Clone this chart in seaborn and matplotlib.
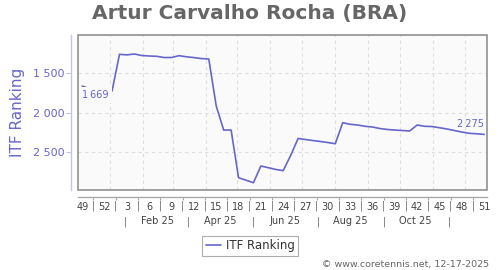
import pandas as pd
import matplotlib
matplotlib.use("Agg")
import matplotlib.pyplot as plt
from matplotlib.patches import Rectangle
from matplotlib.lines import Line2D
from matplotlib.ticker import FuncFormatter
import seaborn as sns

# ---------------- data ----------------
start_date = "2024-12-06"
weeks = [49, 50, 51, 52, 1, 2, 3, 4, 5, 6, 7, 8, 9, 10, 11, 12, 13, 14, 15, 16,
         17, 18, 19, 20, 21, 22, 23, 24, 25, 26, 27, 28, 29, 30, 31, 32, 33, 34,
         35, 36, 37, 38, 39, 40, 41, 42, 43, 44, 45, 46, 47, 48, 49, 50, 51]
ranks = [1669, 1700, 1720, 1730, 1730, 1269, 1276, 1265, 1284, 1290, 1294,
         1309, 1309, 1286, 1300, 1310, 1322, 1328, 1918, 2220, 2220, 2819,
         2850, 2882, 2672, 2693, 2715, 2730, 2540, 2326, 2339, 2352, 2364,
         2377, 2392, 2128, 2148, 2157, 2173, 2182, 2201, 2213, 2220, 2226,
         2232, 2157, 2173, 2176, 2191, 2207, 2226, 2245, 2261, 2267, 2275]
month_labels = ["Feb 25", "Apr 25", "Jun 25", "Aug 25", "Oct 25"]
month_label_dates = ["2025-02-15", "2025-04-15", "2025-06-15", "2025-08-15", "2025-10-15"]
month_sep_dates = ["2025-01-16", "2025-03-16", "2025-05-16", "2025-07-16",
                   "2025-09-16", "2025-11-16"]
y_ticks = [1500, 2000, 2500]
series_name = "ITF Ranking"
title = "Artur Carvalho Rocha (BRA)"
credit = "\u00a9 www.coretennis.net, 12-17-2025"

dates = pd.date_range(start_date, periods=len(ranks), freq="7D")
df = pd.DataFrame({"date": dates, "rank": ranks})

# ---------------- style ----------------
sns.set_theme(style="white")
plt.rcParams["font.family"] = ["DejaVu Sans"]

LINE = "#6666cc"
BOX = "#888888"
GRID = "#dddddd"

fig = plt.figure(figsize=(5, 2.7), dpi=100)
ax = fig.add_axes([78.3 / 500, 1 - 190.3 / 270, 409 / 500, 155 / 270])
ax.set_facecolor("#fafafa")

sns.lineplot(data=df, x="date", y="rank", ax=ax, color=LINE, lw=1.2,
             legend=False, zorder=3)

ax.set_xlim(pd.Timestamp("2024-12-02 06:00"), pd.Timestamp("2025-12-22"))
ax.set_ylim(2977, 1030)

# grid
ax.set_axisbelow(True)
ax.set_yticks(y_ticks)
ax.yaxis.grid(True, ls=(0, (3, 3)), color=GRID, lw=0.8)
for d in pd.date_range("2025-01-01", "2025-12-01", freq="MS"):
    ax.axvline(d, ls=(0, (3, 3)), color=GRID, lw=0.8, zorder=0)

# spines / frame
for s in ["top", "right"]:
    ax.spines[s].set_visible(False)
ax.spines["left"].set_position(("outward", 5))
ax.spines["left"].set_color("#c4c4e8")
ax.spines["left"].set_linewidth(1.0)
ax.spines["bottom"].set_position(("outward", 5))
ax.spines["bottom"].set_color("#aaaaaa")
ax.spines["bottom"].set_linewidth(1.0)
ax.add_patch(Rectangle((0, 0), 1, 1, transform=ax.transAxes, fill=False,
                       ec=BOX, lw=1.1, clip_on=False, zorder=6))

# y axis
ax.yaxis.set_major_formatter(FuncFormatter(lambda v, p: f"{int(v):,}".replace(",", " ")))
ax.tick_params(axis="y", left=True, length=3.6, width=0.8, color="#c4c4e8",
               labelcolor=LINE, labelsize=8, pad=1)
ax.set_ylabel(series_name, fontsize=11, color=LINE)
ax.yaxis.set_label_coords(-0.1303, 0.5)

# x axis: week numbers every 3 weeks, separators between
tick_dates = dates[::3]
ax.set_xticks(tick_dates)
ax.set_xticklabels([str(w) for w in weeks[::3]])
mids = tick_dates[:-1] + pd.Timedelta(days=10.5)
ax.set_xticks(mids, minor=True)
ax.set_xticklabels(["|"] * len(mids), minor=True)
ax.tick_params(axis="x", which="major", bottom=True, length=0, labelsize=7,
               labelcolor="#444444", pad=3.6)
ax.tick_params(axis="x", which="minor", bottom=True, length=2.2, width=0.8,
               color="#aaaaaa", labelsize=7, labelcolor="#666666", pad=0.3)
ax.set_xlabel("")

# month row
for lab, d in zip(month_labels, month_label_dates):
    ax.annotate(lab, xy=(pd.Timestamp(d), 0), xycoords=("data", "axes fraction"),
                xytext=(0, -24.3), textcoords="offset points", ha="center",
                va="baseline", fontsize=7, color="#444444", annotation_clip=False)
for d in month_sep_dates:
    ax.annotate("|", xy=(pd.Timestamp(d), 0), xycoords=("data", "axes fraction"),
                xytext=(0, -24.3), textcoords="offset points", ha="center",
                va="baseline", fontsize=7, color="#666666", annotation_clip=False)

# data labels (first / last)
def fmt(v):
    return f"{v:,}".replace(",", "\u2009")

ax.annotate(fmt(ranks[0]), xy=(dates[0], ranks[0]), xytext=(0, -6.6),
            textcoords="offset points", ha="left", va="center", fontsize=7,
            color=LINE, zorder=5,
            bbox=dict(boxstyle="square,pad=0.3", fc="#fafafa", ec="none"))
ax.annotate(fmt(ranks[-1]), xy=(dates[-1], ranks[-1]), xytext=(0, 3.6),
            textcoords="offset points", ha="right", va="bottom", fontsize=7,
            color=LINE, zorder=5)

# title, legend, credit
fig.text(0.5, 1 - 13.5 / 270, title, ha="center", va="center", fontsize=14.5,
         fontweight="bold", color="#666666")
leg = fig.legend(handles=[Line2D([0], [0], color=LINE, lw=1.2)], labels=[series_name],
                 loc="upper center", bbox_to_anchor=(0.5, 1 - 235.7 / 270),
                 frameon=True, fancybox=False, edgecolor="#999999", fontsize=8.5,
                 handlelength=1.3, handletextpad=0.4, borderpad=0.3,
                 borderaxespad=0)
leg.get_frame().set_linewidth(0.8)
for t in leg.get_texts():
    t.set_color("#333333")
fig.text(489 / 500, 1 - 264 / 270, credit, ha="right", va="center", fontsize=6.8,
         color="#666666")

fig.savefig("out.png", dpi=100)
